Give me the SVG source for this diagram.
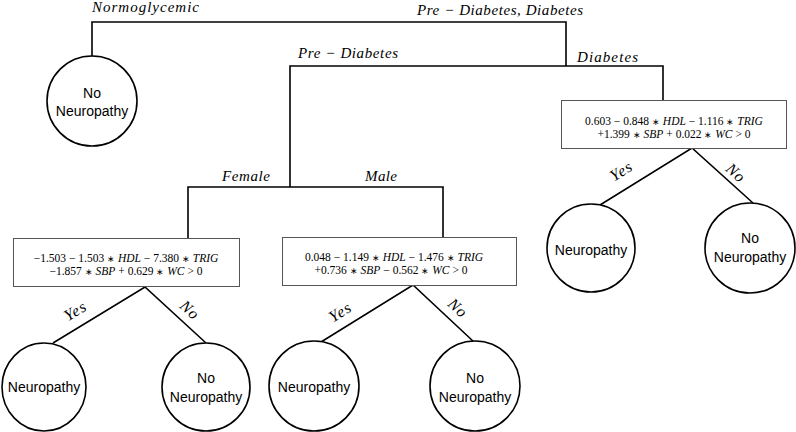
<svg xmlns="http://www.w3.org/2000/svg" width="796" height="432" viewBox="0 0 796 432">
<style>
.c{fill:#fff;stroke:#000;stroke-width:1.6}
.b{fill:#fff;stroke:#555;stroke-width:1}
.e{fill:none;stroke:#000;stroke-width:1.6}
.t{font-family:"Liberation Sans",Arial,sans-serif;font-size:14px;fill:#000;text-anchor:middle}
.m{font-family:"Liberation Serif","Times New Roman",serif;font-size:11.5px;fill:#000;text-anchor:middle}
.l{font-family:"Liberation Serif","Times New Roman",serif;font-style:italic;font-size:15px;fill:#000}
.r{text-anchor:middle;font-size:16px;letter-spacing:1px}
.i{font-style:italic}
.s{font-size:9px}
</style>
<rect width="796" height="432" fill="#fff"/>
<g id="connectors">
<polyline class="e" points="92,56 92,22 566,22 566,66"/>
<polyline class="e" points="290,187 290,66 663,66 663,100"/>
<polyline class="e" points="188,238 188,187 443,187 443,237"/>
<polyline class="e" points="600,205 692,148 753,203"/>
<polyline class="e" points="53,343 145,287 206,343"/>
<polyline class="e" points="321,342 413,285 474,342"/>
</g>
<g id="edge-labels">
<text class="l" x="92" y="12" textLength="107" lengthAdjust="spacing">Normoglycemic</text>
<text class="l" x="417" y="15" textLength="166" lengthAdjust="spacing">Pre − Diabetes, Diabetes</text>
<text class="l" x="298" y="58" textLength="100" lengthAdjust="spacing">Pre − Diabetes</text>
<text class="l" x="577" y="62" textLength="61" lengthAdjust="spacing">Diabetes</text>
<text class="l" x="222" y="181" textLength="48" lengthAdjust="spacing">Female</text>
<text class="l" x="365" y="181" textLength="32" lengthAdjust="spacing">Male</text>
<text class="l r" transform="translate(622,172) rotate(-32)" y="4">Yes</text>
<text class="l r" transform="translate(735,174) rotate(42)" y="4">No</text>
<text class="l r" transform="translate(76,312) rotate(-31)" y="4">Yes</text>
<text class="l r" transform="translate(189,311) rotate(43)" y="4">No</text>
<text class="l r" transform="translate(341,313) rotate(-32)" y="4">Yes</text>
<text class="l r" transform="translate(457,309) rotate(43)" y="4">No</text>
</g>
<g id="root-leaf">
<circle class="c" cx="92" cy="101" r="45"/>
<text class="t" x="92" y="98">No</text>
<text class="t" x="92" y="116">Neuropathy</text>
</g>
<g id="diabetes-split">
<rect class="b" x="561.5" y="100.5" width="225" height="48"/>
<text class="m" x="674" y="125">0.603 − 0.848 <tspan class="s">∗</tspan> <tspan class="i">HDL</tspan> − 1.116 <tspan class="s">∗</tspan> <tspan class="i">TRIG</tspan></text>
<text class="m" x="674" y="138">+1.399 <tspan class="s">∗</tspan> <tspan class="i">SBP</tspan> + 0.022 <tspan class="s">∗</tspan> <tspan class="i">WC</tspan> &gt; 0</text>
</g>
<g id="female-split">
<rect class="b" x="13.5" y="238.5" width="226" height="48"/>
<text class="m" x="126" y="262">−1.503 − 1.503 <tspan class="s">∗</tspan> <tspan class="i">HDL</tspan> − 7.380 <tspan class="s">∗</tspan> <tspan class="i">TRIG</tspan></text>
<text class="m" x="126" y="275">−1.857 <tspan class="s">∗</tspan> <tspan class="i">SBP</tspan> + 0.629 <tspan class="s">∗</tspan> <tspan class="i">WC</tspan> &gt; 0</text>
</g>
<g id="male-split">
<rect class="b" x="282.5" y="237.5" width="234" height="48"/>
<text class="m" x="394" y="261">0.048 − 1.149 <tspan class="s">∗</tspan> <tspan class="i">HDL</tspan> − 1.476 <tspan class="s">∗</tspan> <tspan class="i">TRIG</tspan></text>
<text class="m" x="391" y="274">+0.736 <tspan class="s">∗</tspan> <tspan class="i">SBP</tspan> − 0.562 <tspan class="s">∗</tspan> <tspan class="i">WC</tspan> &gt; 0</text>
</g>
<g id="diabetes-yes">
<circle class="c" cx="591" cy="248" r="44"/>
<text class="t" x="591" y="255">Neuropathy</text>
</g>
<g id="diabetes-no">
<circle class="c" cx="750" cy="248" r="45"/>
<text class="t" x="750" y="243">No</text>
<text class="t" x="750" y="262">Neuropathy</text>
</g>
<g id="female-yes">
<ellipse class="c" cx="44" cy="387" rx="42" ry="44"/>
<text class="t" x="44" y="392">Neuropathy</text>
</g>
<g id="female-no">
<circle class="c" cx="206" cy="387" r="44"/>
<text class="t" x="206" y="383">No</text>
<text class="t" x="206" y="402">Neuropathy</text>
</g>
<g id="male-yes">
<circle class="c" cx="314" cy="386" r="45"/>
<text class="t" x="314" y="392">Neuropathy</text>
</g>
<g id="male-no">
<circle class="c" cx="475" cy="386" r="45"/>
<text class="t" x="475" y="383">No</text>
<text class="t" x="475" y="402">Neuropathy</text>
</g>
</svg>
